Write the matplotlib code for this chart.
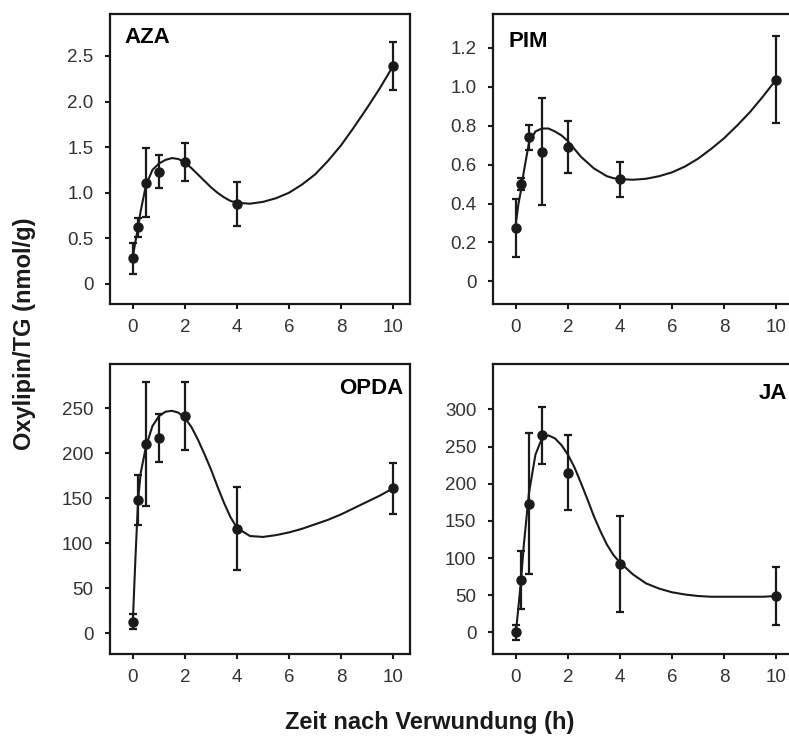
import matplotlib
matplotlib.use('Agg')
import matplotlib.pyplot as plt

plt.rcParams['font.family'] = ['Liberation Sans', 'DejaVu Sans']

INK = '#1a1a1a'

# Messzeitpunkte (h nach Verwundung)
zeit = [0, 0.2, 0.5, 1, 2, 4, 10]

aza = [0.28, 0.62, 1.11, 1.23, 1.34, 0.88, 2.39]
aza_err = [0.17, 0.10, 0.38, 0.18, 0.21, 0.24, 0.26]
pim = [0.275, 0.50, 0.74, 0.665, 0.69, 0.525, 1.036]
pim_err = [0.15, 0.03, 0.065, 0.275, 0.135, 0.09, 0.225]
opda = [13, 148, 210, 217, 241, 116, 161]
opda_err = [8, 28, 69, 27, 38, 46, 28]
ja = [0, 70, 173, 265, 215, 92, 49]
ja_err = [10, 39, 95, 38, 51, 65, 39]

# Ausgleichskurve
fit_x = [0, 0.1, 0.2, 0.3, 0.5, 0.75, 1, 1.25, 1.5, 1.75, 2, 2.25, 2.5,
         2.75, 3, 3.25, 3.5, 3.75, 4, 4.5, 5, 5.5, 6, 6.5, 7, 7.5, 8, 8.5,
         9, 9.5, 10]
aza_fit = [0.3, 0.47, 0.62, 0.8, 1.08, 1.25, 1.32, 1.36, 1.38, 1.37, 1.33,
           1.27, 1.2, 1.13, 1.06, 1.0, 0.95, 0.91, 0.89, 0.88, 0.9, 0.94,
           1.0, 1.09, 1.2, 1.35, 1.52, 1.72, 1.93, 2.15, 2.39]
pim_fit = [0.3, 0.4, 0.47, 0.56, 0.71, 0.77, 0.785, 0.785, 0.77, 0.75,
           0.72, 0.68, 0.64, 0.61, 0.58, 0.56, 0.54, 0.53, 0.525, 0.522,
           0.527, 0.54, 0.56, 0.59, 0.63, 0.68, 0.735, 0.80, 0.87, 0.95,
           1.036]
opda_fit = [15, 85, 148, 178, 207, 230, 241, 246, 247, 245, 239, 229, 215,
            199, 182, 163, 145, 129, 117, 108, 107, 109, 112, 116, 121, 126,
            132, 139, 146, 153, 161]
ja_fit = [0, 35, 71, 116, 187, 239, 261, 265, 261, 252, 239, 222, 201, 179,
          156, 136, 118, 104, 94, 78, 66, 59, 54, 51, 49, 48, 48, 48, 48,
          48, 49]

panels = [
    # name, werte, fehler, kurve, ylim, yticks, ticklabels, pos, label-pos, ha
    ('AZA', aza, aza_err, aza_fit, (-0.22, 2.96),
     [0, 0.5, 1.0, 1.5, 2.0, 2.5], ['0', '0.5', '1.0', '1.5', '2.0', '2.5'],
     [110, 14], (0.047, 0.955), 'left'),
    ('PIM', pim, pim_err, pim_fit, (-0.116, 1.373),
     [0, 0.2, 0.4, 0.6, 0.8, 1.0, 1.2],
     ['0', '0.2', '0.4', '0.6', '0.8', '1.0', '1.2'],
     [493, 14], (0.05, 0.94), 'left'),
    ('OPDA', opda, opda_err, opda_fit, (-23, 299),
     [0, 50, 100, 150, 200, 250], None,
     [110, 364], (0.977, 0.952), 'right'),
    ('JA', ja, ja_err, ja_fit, (-29, 361),
     [0, 50, 100, 150, 200, 250, 300], None,
     [493, 364], (0.98, 0.935), 'right'),
]

W, H = 789, 745
fig = plt.figure(figsize=(W / 100, H / 100), dpi=100)
pw, ph = 300, 290

for name, y, yerr, yfit, ylim, yt, ytl, (px, py), (tx, ty), ha in panels:
    ax = fig.add_axes([px / W, 1 - (py + ph) / H, pw / W, ph / H])
    ax.plot(fit_x, yfit, color=INK, lw=1.5, zorder=2)
    ax.errorbar(zeit, y, yerr=yerr, fmt='o', color=INK, ms=6.5, elinewidth=1.6,
                capsize=2.6, capthick=1.6, zorder=3)
    ax.set_xlim(-0.88, 10.65)
    ax.set_ylim(*ylim)
    ax.set_xticks([0, 2, 4, 6, 8, 10])
    ax.set_yticks(yt)
    if ytl is not None:
        ax.set_yticklabels(ytl)
    ax.tick_params(direction='out', length=3.5, width=1.5, labelsize=13.5,
                   colors=INK, pad=8.5)
    ax.tick_params(axis='y', labelcolor='#333333')
    ax.tick_params(axis='x', labelcolor='#333333', pad=7)
    for sp in ax.spines.values():
        sp.set_linewidth(1.6)
        sp.set_color(INK)
    ax.text(tx, ty, name, transform=ax.transAxes, ha=ha, va='top',
            fontsize=16, fontweight='bold', color='black')

fig.text(25 / W, 1 - 334 / H, 'Oxylipin/TG (nmol/g)', rotation=90,
         ha='center', va='center', fontsize=17, fontweight='bold', color=INK)
fig.text(430 / W, 1 - 723 / H, 'Zeit nach Verwundung (h)', ha='center',
         va='center', fontsize=17, fontweight='bold', color=INK)

fig.savefig('out.png', dpi=100)
